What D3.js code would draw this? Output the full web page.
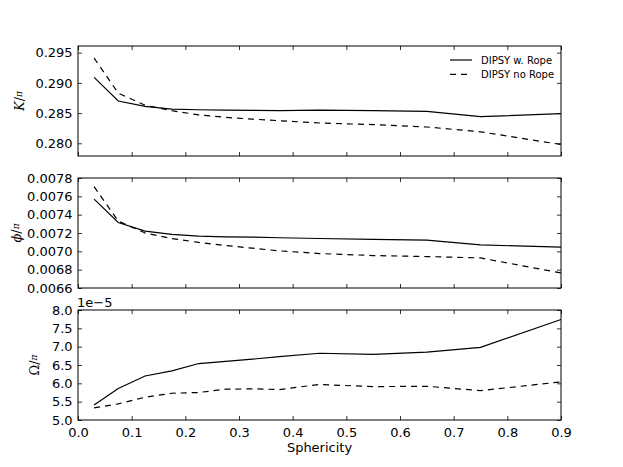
<!DOCTYPE html>
<html>
<head>
<meta charset="utf-8">
<script src="https://d3js.org/d3.v7.min.js"></script>
<style>
  body { margin: 0; background: #fff; }
  svg text { font-family: "DejaVu Sans", sans-serif; }
</style>
</head>
<body>
<div id="chart"></div>
<script>
// sphericity values (x)
var sphericity = [0.03, 0.075, 0.125, 0.175, 0.225, 0.275, 0.325, 0.375, 0.45, 0.55, 0.65, 0.75, 0.9]

// K / pi
var kRope   = [0.2909, 0.2870, 0.2861, 0.28567, 0.28555, 0.28548, 0.28544, 0.28542, 0.2855, 0.2854, 0.28527, 0.2844, 0.2849]
var kNoRope = [0.2941, 0.2883, 0.2863, 0.2854, 0.2847, 0.28429, 0.2840, 0.28374, 0.28336, 0.2831, 0.2827, 0.2819, 0.2798]

// phi / pi
var phiRope   = [0.00757, 0.007315, 0.00722, 0.007184, 0.007166, 0.007158, 0.007155, 0.007148, 0.00714, 0.00713, 0.007122, 0.00707, 0.007045]
var phiNoRope = [0.007705, 0.00733, 0.0072, 0.00714, 0.007097, 0.007064, 0.007034, 0.007005, 0.006976, 0.006954, 0.006943, 0.006928, 0.006764]

// Omega / pi (units of 1e-5)
var omegaRope   = [5.41, 5.86, 6.2, 6.34, 6.54, 6.6, 6.66, 6.73, 6.82, 6.79, 6.85, 6.98, 7.74]
var omegaNoRope = [5.33, 5.44, 5.62, 5.73, 5.75, 5.84, 5.85, 5.83, 5.97, 5.91, 5.92, 5.80, 6.04]

var xTicks = [0.0, 0.1, 0.2, 0.3, 0.4, 0.5, 0.6, 0.7, 0.8, 0.9]
var kTicks = [0.280, 0.285, 0.290, 0.295]
var phiTicks = [0.0066, 0.0068, 0.0070, 0.0072, 0.0074, 0.0076, 0.0078]
var omegaTicks = [5.0, 5.5, 6.0, 6.5, 7.0, 7.5, 8.0]

var seriesNames = ["DIPSY w. Rope", "DIPSY no Rope"]

var W = 623, H = 467
var left = 78, right = 561

var svg = d3.select("#chart").append("svg")
    .attr("width", W).attr("height", H)

var x = d3.scaleLinear().domain([0, 0.9]).range([left, right])

var panels = [
  { top: 46,  bottom: 156, domain: [0.2779, 0.2961], ticks: kTicks, fmt: d3.format(".3f"),
    a: kRope, b: kNoRope, sym: "K", italic: true, labelX: 24, showX: false },
  { top: 178, bottom: 288, domain: [0.0066, 0.0078], ticks: phiTicks, fmt: d3.format(".4f"),
    a: phiRope, b: phiNoRope, sym: "\u03D5", italic: true, labelX: 21, showX: false },
  { top: 310, bottom: 420, domain: [5.0, 8.0], ticks: omegaTicks, fmt: d3.format(".1f"),
    a: omegaRope, b: omegaNoRope, sym: "\u03A9", italic: false, labelX: 39, showX: true }
]

panels.forEach(function(p, i) {
  var y = d3.scaleLinear().domain(p.domain).range([p.bottom, p.top])
  var g = svg.append("g")

  // data lines
  var line = d3.line()
      .x(function(d, j) { return x(sphericity[j]) })
      .y(function(d) { return y(d) })

  g.append("path").datum(p.a)
      .attr("d", line).attr("fill", "none")
      .attr("stroke", "#000").attr("stroke-width", 1.2)
  g.append("path").datum(p.b)
      .attr("d", line).attr("fill", "none")
      .attr("stroke", "#000").attr("stroke-width", 1.2)
      .attr("stroke-dasharray", "6,5")

  // inward ticks on all four sides
  var tl = 4
  var axL = d3.axisLeft(y).tickValues(p.ticks).tickSize(-tl).tickPadding(8).tickFormat(p.fmt)
  var axR = d3.axisRight(y).tickValues(p.ticks).tickSize(-tl).tickFormat("")
  var axB = d3.axisBottom(x).tickValues(xTicks).tickSize(-tl).tickPadding(8)
      .tickFormat(p.showX ? d3.format(".1f") : "")
  var axT = d3.axisTop(x).tickValues(xTicks).tickSize(-tl).tickFormat("")

  var gl = g.append("g").attr("transform", "translate(" + left + ",0)").call(axL)
  var gr = g.append("g").attr("transform", "translate(" + right + ",0)").call(axR)
  var gb = g.append("g").attr("transform", "translate(0," + p.bottom + ")").call(axB)
  var gt = g.append("g").attr("transform", "translate(0," + p.top + ")").call(axT)

  ;[gl, gr, gb, gt].forEach(function(a) {
    a.select(".domain").remove()
    a.selectAll("line").attr("stroke", "#000").attr("stroke-width", 0.8)
    a.selectAll("text").attr("fill", "#000").style("font-size", "13px")
  })
  gl.selectAll("text").attr("dx", "0.2em")

  // frame
  g.append("rect")
      .attr("x", left).attr("y", p.top)
      .attr("width", right - left).attr("height", p.bottom - p.top)
      .attr("fill", "none").attr("stroke", "#000").attr("stroke-width", 1)

  // y label: sym / pi
  var cy = (p.top + p.bottom) / 2
  var lab = g.append("text")
      .attr("transform", "translate(" + p.labelX + "," + cy + ") rotate(-90)")
      .attr("text-anchor", "middle")
      .style("font-family", "'DejaVu Serif', serif")
      .style("font-size", "13px")
  lab.append("tspan").style("font-style", p.italic ? "italic" : "normal").text(p.sym)
  lab.append("tspan").style("font-size", "13px").text("/")
  lab.append("tspan").style("font-style", "italic").style("font-size", "9px").attr("dy", "-0.2em").text("\u03C0")
})

// offset text
svg.append("text").attr("x", 77).attr("y", 307)
    .style("font-size", "13px").text("1e\u22125")

// x label
svg.append("text").attr("x", (left + right) / 2).attr("y", 452)
    .attr("text-anchor", "middle").style("font-size", "13px").text("Sphericity")

// legend
var leg = svg.append("g")
seriesNames.forEach(function(name, i) {
  var ly = 60 + i * 14.3
  leg.append("line")
      .attr("x1", 450).attr("x2", 472).attr("y1", ly).attr("y2", ly)
      .attr("stroke", "#000").attr("stroke-width", 1.2)
      .attr("stroke-dasharray", i === 1 ? "6,5" : null)
  leg.append("text").attr("x", 481).attr("y", ly + 3.5)
      .style("font-size", "10px").text(name)
})
</script>
</body>
</html>
